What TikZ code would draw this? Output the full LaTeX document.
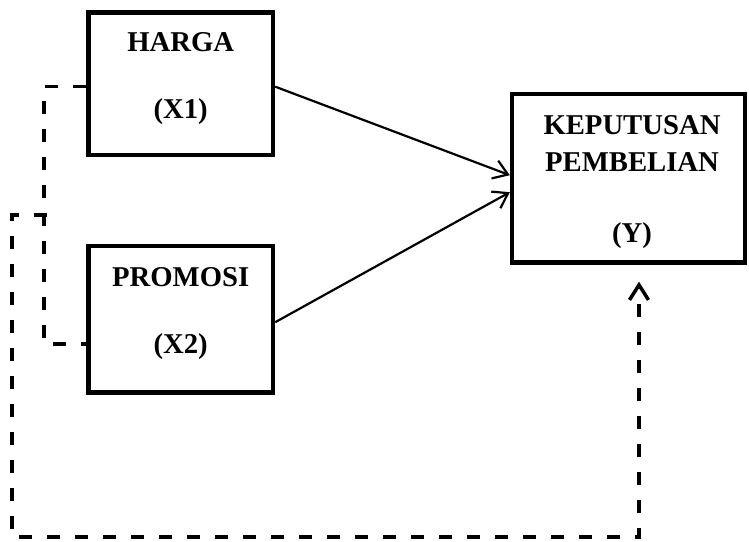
\documentclass[tikz,border=0pt]{standalone}
\usepackage{fontspec}
\setmainfont{Liberation Serif}
\usetikzlibrary{arrows.meta,calc}
\begin{document}
\begin{tikzpicture}[x=1pt,y=1pt,
  box/.style={draw,line width=4.4pt,minimum width=184.7pt,inner sep=0pt},
  lbl/.style={font=\fontsize{28.7}{34}\selectfont\bfseries,anchor=base,inner sep=0pt},
  solidarrow/.style={line width=2.2pt,-{Straight Barb[length=14pt,width=19pt,line width=2.2pt]}},
  dashline/.style={line width=3.5pt,dash pattern=on 13pt off 15pt},
  dasharrow/.style={dashline,-{Straight Barb[length=15pt,width=19pt,line width=3.5pt]}}]
\useasboundingbox (0,0) rectangle (749,541);
% boxes
\node[box,minimum height=142.7pt] (harga) at (180.7,457.3) {};
\node[box,minimum height=146.7pt] (promosi) at (180.7,221.8) {};
\node[box,minimum width=233pt,minimum height=168.5pt] (keputusan) at (628.5,362.8) {};
% labels
\node[lbl] (t1) at (180.7,489) {HARGA};
\node[lbl] (t2) at (180.7,422) {(X1)};
\node[lbl] (t3) at (180.7,254) {PROMOSI};
\node[lbl] (t4) at (180.7,187) {(X2)};
\node[lbl] (t5) at (632,406) {KEPUTUSAN};
\node[lbl] (t6) at (632,369) {PEMBELIAN};
\node[lbl] (t7) at (632,298) {(Y)};
% solid arrows
\draw[solidarrow] ([yshift=-3pt]harga.east) -- ([yshift=3pt]keputusan.west);
\draw[solidarrow] ([yshift=-3pt]promosi.east) -- ([yshift=-14pt]keputusan.west);
% dashed connector between X1 and X2
\draw[dashline] ([yshift=-3pt]harga.west) -- ++(-42,0) |- ([yshift=-25pt]promosi.west);
% dashed loop to Y
\coordinate (j) at (47,326);
\coordinate (tip) at ($(keputusan.south)+(10.5,-17)$);
\draw[dasharrow] (j) -- (12,326) -- (12,4) -| (tip);
\end{tikzpicture}
\end{document}
